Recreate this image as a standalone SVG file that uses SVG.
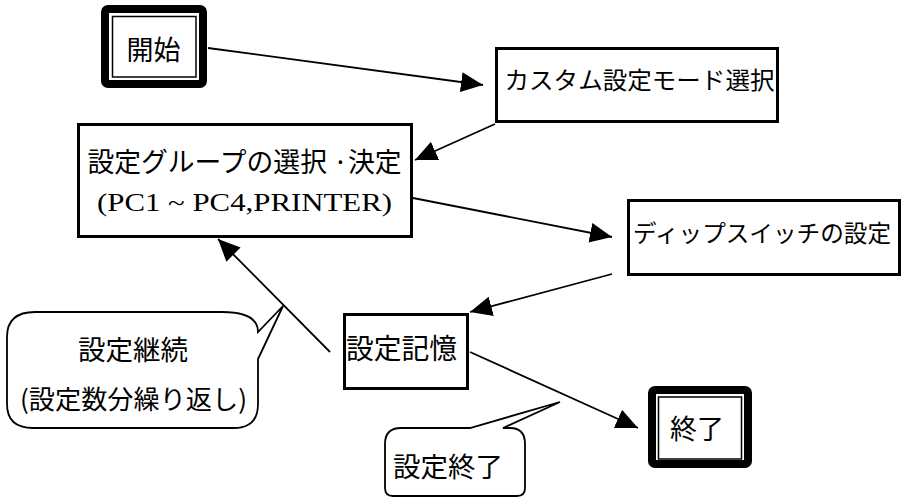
<svg xmlns="http://www.w3.org/2000/svg" width="903" height="497" viewBox="0 0 903 497">
<style>
.box{fill:#fff;stroke:#000;stroke-width:3}
.thick{fill:#fff;stroke:#000;stroke-width:8}
.thin{fill:none;stroke:#000;stroke-width:1.5}
.call{fill:#fff;stroke:#000;stroke-width:1.8;stroke-linejoin:miter}
.t{font-family:"Noto Sans CJK JP","Noto Sans",sans-serif;fill:#000;text-anchor:middle;dominant-baseline:central}
.s{font-family:"Liberation Serif","Noto Sans CJK JP",serif;fill:#000;text-anchor:middle;dominant-baseline:central}
.con{fill:none;stroke:#000;stroke-width:1.8}
</style>
<defs>
<marker id="ah" markerUnits="userSpaceOnUse" markerWidth="24" markerHeight="22" refX="22" refY="10" orient="auto">
<path d="M0,0 L22,10 L0,20 Z" fill="#000"/>
</marker>
</defs>
<g id="connectors">
<line class="con" x1="208" y1="48" x2="483" y2="85" marker-end="url(#ah)"/>
<line class="con" x1="495" y1="124" x2="415" y2="160" marker-end="url(#ah)"/>
<line class="con" x1="413" y1="198" x2="612" y2="237" marker-end="url(#ah)"/>
<line class="con" x1="612" y1="274" x2="470" y2="312" marker-end="url(#ah)"/>
<line class="con" x1="330" y1="352" x2="218" y2="239" marker-end="url(#ah)"/>
<line class="con" x1="470" y1="352" x2="638" y2="428" marker-end="url(#ah)"/>
</g>
<g id="start">
<rect class="thick" x="105" y="9" width="98" height="75" rx="3"/>
<rect class="thin" x="112.5" y="16.5" width="83.5" height="60.5"/>
<text class="t" x="153.5" y="48" font-size="27">開始</text>
</g>
<g id="custom">
<rect class="box" x="496.5" y="48.5" width="281" height="73"/>
<text class="t" x="639.5" y="78" font-size="24" textLength="270" lengthAdjust="spacingAndGlyphs">カスタム設定モード選択</text>
</g>
<g id="group">
<rect class="box" x="78.5" y="124.5" width="333" height="112"/>
<text class="t" x="244.5" y="160" font-size="27" textLength="314" lengthAdjust="spacingAndGlyphs">設定グループの選択 ·決定</text>
<text class="s" x="244.5" y="202" font-size="26" textLength="295" lengthAdjust="spacingAndGlyphs">(PC1 ~ PC4,PRINTER)</text>
</g>
<g id="dip">
<rect class="box" x="628.5" y="200.5" width="271" height="74"/>
<text class="t" x="762" y="232" font-size="23.5" textLength="258" lengthAdjust="spacingAndGlyphs">ディップスイッチの設定</text>
</g>
<g id="memory">
<rect class="box" x="344.5" y="314.5" width="123" height="74"/>
<text class="t" x="401.5" y="347" font-size="28" textLength="111" lengthAdjust="spacingAndGlyphs">設定記憶</text>
</g>
<g id="end">
<rect class="thick" x="652" y="390" width="96" height="74" rx="3"/>
<rect class="thin" x="658.5" y="397" width="83" height="62"/>
<text class="t" x="697" y="427" font-size="27">終了</text>
</g>
<g id="note-continue">
<path class="call" d="M7,337 Q7,312 35,312 L222,312 Q258,312 258,332 L283,306 L258,359 L258,404 Q258,428 234,428 L33,428 Q7,428 7,404 Z"/>
<text class="t" x="133" y="348" font-size="27" textLength="110" lengthAdjust="spacingAndGlyphs">設定継続</text>
<text class="t" x="133.5" y="397" font-size="26" textLength="227" lengthAdjust="spacingAndGlyphs">(設定数分繰り返し)</text>
</g>
<g id="note-end">
<path class="call" d="M385,444 Q385,428 401,428 L470,428 L560,402 L503,428 L510,428 Q525,428 525,444 L525,488 Q525,496 517,496 L393,496 Q385,496 385,488 Z"/>
<text class="t" x="448" y="465" font-size="27" textLength="110" lengthAdjust="spacingAndGlyphs">設定終了</text>
</g>
</svg>
